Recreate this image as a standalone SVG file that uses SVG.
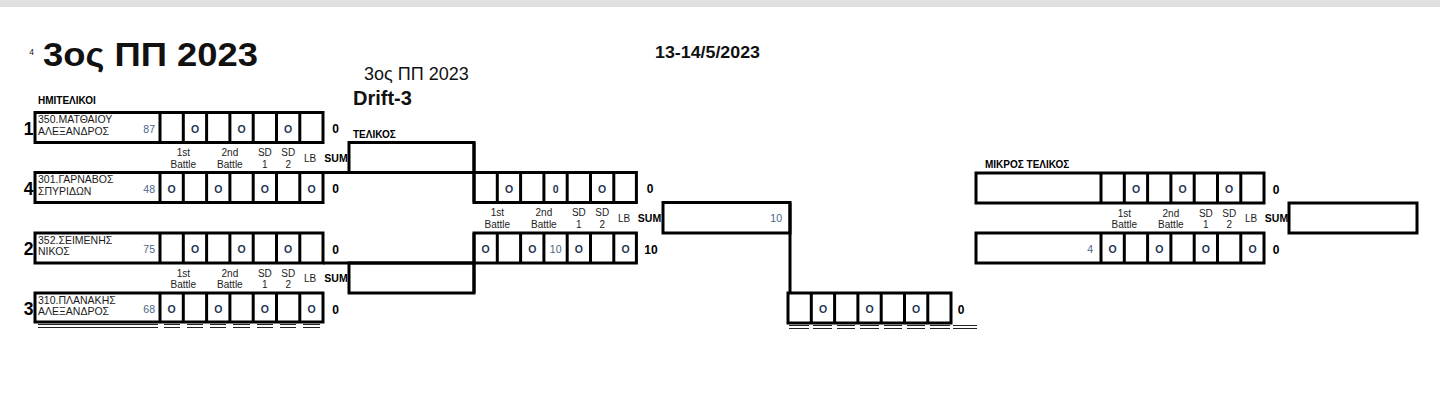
<svg xmlns="http://www.w3.org/2000/svg" width="1440" height="406" viewBox="0 0 1440 406">
<style>
text{font-family:"Liberation Sans",Arial,sans-serif;fill:#111}
.bx{fill:none;stroke:#000;stroke-width:3}
.ln{fill:none;stroke:#000;stroke-width:3}
.ul{fill:none;stroke:#222;stroke-width:1}
.nm{font-size:10.5px;fill:#1a1a1a}
.sd{font-size:10.5px;fill:#4a6585;text-anchor:end}
.o{font-size:10.5px;font-weight:bold;fill:#1f3452;text-anchor:middle}
.z{font-size:12px;font-weight:bold;fill:#000;text-anchor:middle}
.h{font-size:10px;fill:#222;text-anchor:middle}
.hs{font-size:10.5px;font-weight:bold;fill:#000;text-anchor:middle}
.rn{font-size:17.5px;font-weight:bold;fill:#000;text-anchor:middle}
.lbl{font-size:10px;font-weight:bold;fill:#000}
</style>
<rect x="0" y="0" width="1440" height="7" fill="#e0e0e0"/>

<g id="titles">
<text x="31.5" y="54.5" font-size="8.5" text-anchor="middle">4</text>
<text x="43" y="66" font-size="34" font-weight="bold" fill="#000" textLength="215" lengthAdjust="spacingAndGlyphs">3ος ΠΠ 2023</text>
<text x="655" y="58" font-size="17" font-weight="bold" fill="#000" textLength="105" lengthAdjust="spacingAndGlyphs">13-14/5/2023</text>
<text x="364" y="80" font-size="18">3ος ΠΠ 2023</text>
<text x="353" y="105" font-size="20" font-weight="bold" fill="#000">Drift-3</text>
<text class="lbl" x="38" y="104">ΗΜΙΤΕΛΙΚΟΙ</text>
<text class="lbl" x="353" y="138">ΤΕΛΙΚΟΣ</text>
<text class="lbl" x="985" y="168">ΜΙΚΡΟΣ ΤΕΛΙΚΟΣ</text>
</g>

<g id="connectors">
<path class="ln" d="M323 172.5H474M474 142.5V202.5"/>
<path class="ln" d="M323 263H474M474 233V293"/>
<path class="ln" d="M790 202.5V293"/>
</g>

<g id="semi1">
<rect class="bx" x="35" y="112.5" width="288" height="30"/>
<path class="ln" d="M160 112.5V142.5M183.3 112.5V142.5M206.6 112.5V142.5M229.9 112.5V142.5M253.2 112.5V142.5M276.5 112.5V142.5M299.8 112.5V142.5"/>
<text class="rn" x="28.5" y="134.5">1</text>
<text class="nm" x="38" y="123">350.ΜΑΤΘΑΙΟΥ</text>
<text class="nm" x="38" y="134.5">ΑΛΕΞΑΝΔΡΟΣ</text>
<text class="sd" x="155" y="132.5">87</text>
<text class="o" x="195" y="132.5">O</text>
<text class="o" x="241.6" y="132.5">O</text>
<text class="o" x="288.2" y="132.5">O</text>
<text class="z" x="335.5" y="133">0</text>

<text class="h" x="183.3" y="156">1st</text>
<text class="h" x="183.3" y="167.5">Battle</text>
<text class="h" x="229.9" y="156">2nd</text>
<text class="h" x="229.9" y="167.5">Battle</text>
<text class="h" x="264.9" y="156">SD</text>
<text class="h" x="264.9" y="167.5">1</text>
<text class="h" x="288.2" y="156">SD</text>
<text class="h" x="288.2" y="167.5">2</text>
<text class="h" x="310" y="161.5">LB</text>
<text class="hs" x="336" y="161.5">SUM</text>
<rect class="bx" x="349" y="142.5" width="125" height="30"/>

<rect class="bx" x="35" y="172.5" width="288" height="30"/>
<path class="ln" d="M160 172.5V202.5M183.3 172.5V202.5M206.6 172.5V202.5M229.9 172.5V202.5M253.2 172.5V202.5M276.5 172.5V202.5M299.8 172.5V202.5"/>
<text class="rn" x="28.5" y="194.5">4</text>
<text class="nm" x="38" y="183">301.ΓΑΡΝΑΒΟΣ</text>
<text class="nm" x="38" y="194.5">ΣΠΥΡΙΔΩΝ</text>
<text class="sd" x="155" y="192.5">48</text>
<text class="o" x="171.7" y="192.5">O</text>
<text class="o" x="218.3" y="192.5">O</text>
<text class="o" x="264.9" y="192.5">O</text>
<text class="o" x="311.5" y="192.5">O</text>
<text class="z" x="335.5" y="193">0</text>
</g>

<g id="semi2">
<rect class="bx" x="35" y="233" width="288" height="30"/>
<path class="ln" d="M160 233V263M183.3 233V263M206.6 233V263M229.9 233V263M253.2 233V263M276.5 233V263M299.8 233V263"/>
<text class="rn" x="28.5" y="255">2</text>
<text class="nm" x="38" y="243.5">352.ΣΕΙΜΕΝΗΣ</text>
<text class="nm" x="38" y="255">ΝΙΚΟΣ</text>
<text class="sd" x="155" y="253">75</text>
<text class="o" x="195" y="253">O</text>
<text class="o" x="241.6" y="253">O</text>
<text class="o" x="288.2" y="253">O</text>
<text class="z" x="335.5" y="253.5">0</text>

<text class="h" x="183.3" y="276.5">1st</text>
<text class="h" x="183.3" y="288">Battle</text>
<text class="h" x="229.9" y="276.5">2nd</text>
<text class="h" x="229.9" y="288">Battle</text>
<text class="h" x="264.9" y="276.5">SD</text>
<text class="h" x="264.9" y="288">1</text>
<text class="h" x="288.2" y="276.5">SD</text>
<text class="h" x="288.2" y="288">2</text>
<text class="h" x="310" y="282">LB</text>
<text class="hs" x="336" y="282">SUM</text>
<rect class="bx" x="349" y="263" width="125" height="30"/>

<rect class="bx" x="35" y="293" width="288" height="29"/>
<path class="ln" d="M160 293V322M183.3 293V322M206.6 293V322M229.9 293V322M253.2 293V322M276.5 293V322M299.8 293V322"/>
<text class="rn" x="28.5" y="315">3</text>
<text class="nm" x="38" y="303.5">310.ΠΛΑΝΑΚΗΣ</text>
<text class="nm" x="38" y="315">ΑΛΕΞΑΝΔΡΟΣ</text>
<text class="sd" x="155" y="313">68</text>
<text class="o" x="171.7" y="313">O</text>
<text class="o" x="218.3" y="313">O</text>
<text class="o" x="264.9" y="313">O</text>
<text class="o" x="311.5" y="313">O</text>
<text class="z" x="335.5" y="313.5">0</text>
<path class="ul" d="M38 324.5H158M164 324.5H180M187 324.5H203M210 324.5H226M233 324.5H250M257 324.5H273M280 324.5H296M303 324.5H320M38 327.5H158M164 327.5H180M187 327.5H203M210 327.5H226M233 327.5H250M257 327.5H273M280 327.5H296M303 327.5H320"/>
</g>

<g id="final">
<rect class="bx" x="474" y="172.5" width="162.4" height="30"/>
<path class="ln" d="M497.3 172.5V202.5M520.6 172.5V202.5M543.9 172.5V202.5M567.2 172.5V202.5M590.5 172.5V202.5M613.8 172.5V202.5"/>
<text class="o" x="509" y="192.5">O</text>
<text class="o" x="555.6" y="192.5">0</text>
<text class="o" x="602.2" y="192.5">O</text>
<text class="z" x="650" y="193">0</text>

<text class="h" x="497.3" y="216">1st</text>
<text class="h" x="497.3" y="227.5">Battle</text>
<text class="h" x="543.9" y="216">2nd</text>
<text class="h" x="543.9" y="227.5">Battle</text>
<text class="h" x="578.9" y="216">SD</text>
<text class="h" x="578.9" y="227.5">1</text>
<text class="h" x="602.2" y="216">SD</text>
<text class="h" x="602.2" y="227.5">2</text>
<text class="h" x="624" y="221.5">LB</text>
<text class="hs" x="649.5" y="221.5">SUM</text>
<rect class="bx" x="663" y="202.5" width="127" height="30.5"/>
<text class="sd" x="782" y="221.5" fill="#5a6b80">10</text>

<rect class="bx" x="474" y="233" width="162.4" height="30"/>
<path class="ln" d="M497.3 233V263M520.6 233V263M543.9 233V263M567.2 233V263M590.5 233V263M613.8 233V263"/>
<text class="o" x="485.7" y="253">O</text>
<text class="o" x="532.3" y="253">O</text>
<text class="sd" x="561.5" y="253">10</text>
<text class="o" x="578.9" y="253">O</text>
<text class="o" x="625.5" y="253">O</text>
<text class="z" x="651" y="253.5">10</text>
</g>

<g id="winner">
<rect class="bx" x="788" y="293" width="163" height="30"/>
<path class="ln" d="M811.3 293V323M834.6 293V323M857.9 293V323M881.2 293V323M904.5 293V323M927.8 293V323"/>
<text class="o" x="823" y="313">O</text>
<text class="o" x="869.6" y="313">O</text>
<text class="o" x="916.2" y="313">O</text>
<text class="z" x="961" y="313.5">0</text>
<path class="ul" d="M789 325.5H809M813 325.5H832M837 325.5H855M860 325.5H879M884 325.5H902M907 325.5H925M930 325.5H950M953 325.5H977M789 328.5H809M813 328.5H832M837 328.5H855M860 328.5H879M884 328.5H902M907 328.5H925M930 328.5H950M953 328.5H977"/>
</g>

<g id="small-final">
<rect class="bx" x="976" y="173" width="288" height="30"/>
<path class="ln" d="M1101 173V203M1124.3 173V203M1147.6 173V203M1170.9 173V203M1194.2 173V203M1217.5 173V203M1240.8 173V203"/>
<text class="o" x="1136" y="193">O</text>
<text class="o" x="1182.6" y="193">O</text>
<text class="o" x="1229.2" y="193">O</text>
<text class="z" x="1276" y="193.5">0</text>

<text class="h" x="1124.3" y="216.5">1st</text>
<text class="h" x="1124.3" y="228">Battle</text>
<text class="h" x="1170.9" y="216.5">2nd</text>
<text class="h" x="1170.9" y="228">Battle</text>
<text class="h" x="1205.9" y="216.5">SD</text>
<text class="h" x="1205.9" y="228">1</text>
<text class="h" x="1229.2" y="216.5">SD</text>
<text class="h" x="1229.2" y="228">2</text>
<text class="h" x="1251" y="222">LB</text>
<text class="hs" x="1276.5" y="222">SUM</text>
<rect class="bx" x="1289" y="203" width="128" height="30"/>

<rect class="bx" x="976" y="233" width="288" height="30"/>
<path class="ln" d="M1101 233V263M1124.3 233V263M1147.6 233V263M1170.9 233V263M1194.2 233V263M1217.5 233V263M1240.8 233V263"/>
<text class="sd" x="1093" y="253">4</text>
<text class="o" x="1112.7" y="253">O</text>
<text class="o" x="1159.3" y="253">O</text>
<text class="o" x="1205.9" y="253">O</text>
<text class="o" x="1252.5" y="253">O</text>
<text class="z" x="1276" y="253.5">0</text>
</g>
</svg>
